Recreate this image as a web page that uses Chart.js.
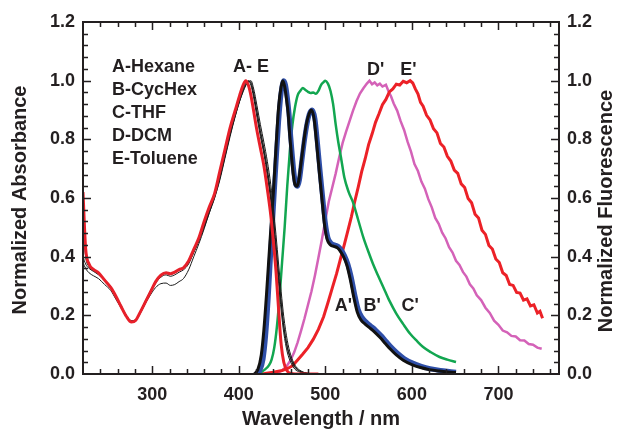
<!DOCTYPE html>
<html>
<head>
<meta charset="utf-8">
<title>Absorbance and fluorescence spectra</title>
<script src="https://cdn.jsdelivr.net/npm/chart.js@4.4.1/dist/chart.umd.min.js"></script>
<style>
  html, body { margin: 0; padding: 0; background: #fff; }
  canvas { display: block; }
</style>
</head>
<body>
<canvas id="spectra" width="622" height="430"></canvas>
<script>
// absorbance spectra, shared wavelength grid (nm)
const absWl = [220, 223, 227, 232, 238, 245, 252, 258, 264, 270, 276, 281, 286, 292, 298, 304, 310, 316, 321, 326,
  331, 336, 342, 348, 354, 360, 366, 372, 378, 384, 390, 396, 401, 405, 408, 411, 414, 417, 421, 425,
  429, 433, 437, 440, 443, 446, 449, 452, 456, 460, 465, 470, 476, 484, 492];
const absHexane = [0.38, 0.36, 0.345, 0.335, 0.325, 0.305, 0.285, 0.255, 0.225, 0.195, 0.178, 0.182, 0.205, 0.24, 0.27, 0.295, 0.308, 0.31, 0.302, 0.305,
  0.315, 0.325, 0.355, 0.40, 0.445, 0.495, 0.55, 0.60, 0.66, 0.735, 0.81, 0.88, 0.93, 0.965, 0.985, 1.0, 0.99, 0.955, 0.89, 0.82,
  0.76, 0.69, 0.60, 0.52, 0.43, 0.33, 0.24, 0.16, 0.09, 0.05, 0.022, 0.01, 0.004, 0.001, 0];
const absCycHex = [0.40, 0.375, 0.36, 0.35, 0.338, 0.318, 0.293, 0.263, 0.23, 0.198, 0.18, 0.185, 0.21, 0.245, 0.28, 0.31, 0.33, 0.338, 0.333, 0.338,
  0.347, 0.355, 0.375, 0.415, 0.455, 0.505, 0.555, 0.605, 0.67, 0.745, 0.82, 0.885, 0.935, 0.97, 0.99, 0.998, 0.995, 0.96, 0.895, 0.83,
  0.77, 0.70, 0.615, 0.535, 0.44, 0.34, 0.245, 0.165, 0.095, 0.055, 0.025, 0.011, 0.004, 0.001, 0];
const absTHF = [0.56, 0.42, 0.372, 0.355, 0.343, 0.322, 0.297, 0.268, 0.233, 0.20, 0.182, 0.186, 0.212, 0.247, 0.282, 0.315, 0.336, 0.343, 0.339, 0.345,
  0.354, 0.36, 0.38, 0.418, 0.458, 0.51, 0.56, 0.608, 0.675, 0.75, 0.825, 0.89, 0.94, 0.975, 0.995, 0.998, 0.985, 0.945, 0.875, 0.81,
  0.75, 0.675, 0.59, 0.505, 0.41, 0.31, 0.215, 0.14, 0.075, 0.04, 0.016, 0.007, 0.002, 0, 0];
const absDCM = [0.50, 0.40, 0.365, 0.352, 0.342, 0.322, 0.298, 0.268, 0.234, 0.20, 0.18, 0.186, 0.213, 0.25, 0.285, 0.318, 0.338, 0.345, 0.342, 0.348,
  0.357, 0.364, 0.38, 0.415, 0.455, 0.50, 0.55, 0.60, 0.665, 0.74, 0.815, 0.88, 0.93, 0.962, 0.983, 0.995, 1.0, 0.975, 0.915, 0.85,
  0.79, 0.725, 0.645, 0.565, 0.475, 0.375, 0.28, 0.195, 0.115, 0.065, 0.03, 0.014, 0.005, 0.001, 0];
const absToluene = [0.62, 0.43, 0.375, 0.357, 0.345, 0.32, 0.295, 0.265, 0.23, 0.197, 0.177, 0.183, 0.21, 0.245, 0.28, 0.315, 0.337, 0.345, 0.342, 0.347,
  0.356, 0.362, 0.385, 0.425, 0.465, 0.52, 0.57, 0.615, 0.69, 0.765, 0.84, 0.90, 0.95, 0.985, 1.0, 0.985, 0.95, 0.90, 0.83, 0.77,
  0.71, 0.63, 0.54, 0.45, 0.35, 0.22, 0.10, 0.04, 0.01, 0.002, 0, 0, 0, 0, 0];

// fluorescence spectra
const wlFluoA = [418, 422, 426, 429, 432, 436, 440, 443, 446, 449, 451, 453, 455, 457, 459, 461, 463, 465, 467, 469,
  472, 475, 478, 481, 484, 487, 490, 493, 496, 499, 502, 506, 510, 514, 517, 521, 525, 529, 533, 537,
  541, 546, 551, 557, 563, 569, 575, 582, 590, 600, 610, 620, 632, 645, 651];
const fluoHexane = [0, 0.015, 0.065, 0.15, 0.27, 0.45, 0.62, 0.77, 0.91, 0.98, 1.0, 0.98, 0.94, 0.89, 0.81, 0.74, 0.68, 0.645, 0.64, 0.655,
  0.72, 0.79, 0.85, 0.885, 0.90, 0.87, 0.785, 0.69, 0.60, 0.51, 0.46, 0.44, 0.435, 0.43, 0.42, 0.40, 0.37, 0.32, 0.26, 0.21,
  0.185, 0.17, 0.158, 0.143, 0.125, 0.105, 0.085, 0.065, 0.047, 0.032, 0.022, 0.015, 0.01, 0.006, 0.005];
const wlFluoB = [420, 424, 428, 431, 434, 437, 440, 443, 446, 449, 452, 454, 456, 458, 460, 462, 464, 466, 468, 470,
  473, 476, 479, 482, 485, 488, 491, 494, 497, 500, 503, 507, 511, 515, 518, 522, 526, 530, 534, 538,
  542, 547, 552, 558, 564, 570, 576, 583, 591, 601, 611, 621, 633, 645, 651];
const fluoCycHex = [0, 0.01, 0.05, 0.13, 0.26, 0.42, 0.57, 0.72, 0.86, 0.96, 1.0, 0.985, 0.945, 0.89, 0.81, 0.74, 0.68, 0.645, 0.64, 0.66,
  0.73, 0.80, 0.855, 0.89, 0.90, 0.87, 0.785, 0.69, 0.60, 0.515, 0.465, 0.445, 0.44, 0.435, 0.425, 0.405, 0.375, 0.33, 0.27, 0.22,
  0.195, 0.178, 0.165, 0.15, 0.132, 0.112, 0.092, 0.072, 0.053, 0.037, 0.026, 0.018, 0.012, 0.008, 0.006];
const wlFluoC = [419, 425, 430, 435, 438, 441, 444, 447, 450, 453, 456, 459, 462, 465, 468, 471, 474, 477, 480, 483,
  486, 489, 492, 495, 498, 500, 503, 506, 509, 512, 515, 518, 522, 527, 532, 538, 544, 550, 555, 561,
  567, 574, 582, 590, 598, 606, 613, 622, 632, 641, 651];
const fluoTHF = [0, 0.005, 0.015, 0.03, 0.05, 0.09, 0.16, 0.26, 0.38, 0.50, 0.64, 0.76, 0.85, 0.91, 0.95, 0.965, 0.975, 0.968, 0.962, 0.958,
  0.96, 0.955, 0.965, 0.985, 0.995, 1.0, 0.99, 0.965, 0.92, 0.85, 0.79, 0.74, 0.67, 0.62, 0.585, 0.525, 0.465, 0.415, 0.376, 0.335,
  0.296, 0.25, 0.206, 0.17, 0.137, 0.112, 0.092, 0.074, 0.058, 0.049, 0.041];
const wlFluoD = [440, 445, 450, 455, 460, 464, 468, 472, 476, 480, 484, 488, 492, 496, 500, 504, 508, 512, 516, 520,
  524, 528, 532, 536, 540, 544, 548, 551, 554, 557, 560, 563, 566, 570, 573, 576, 579, 583, 587, 591,
  595, 599, 603, 607, 611, 615, 619, 623, 627, 631, 635, 639, 643, 647, 651, 655, 659, 663, 667, 671,
  675, 680, 685, 690, 695, 700, 705, 710, 715, 720, 725, 730, 735, 740, 745, 750];
const fluoDCM = [0, 0.004, 0.012, 0.025, 0.048, 0.074, 0.108, 0.148, 0.19, 0.236, 0.282, 0.336, 0.396, 0.458, 0.524, 0.588, 0.636, 0.684, 0.738, 0.788,
  0.826, 0.862, 0.898, 0.93, 0.956, 0.974, 0.99, 1.0, 0.988, 0.994, 0.984, 0.99, 0.98, 0.986, 0.964, 0.946, 0.922, 0.898, 0.862, 0.832,
  0.792, 0.758, 0.716, 0.692, 0.656, 0.632, 0.596, 0.568, 0.532, 0.512, 0.482, 0.462, 0.432, 0.414, 0.386, 0.372, 0.348, 0.332, 0.306, 0.292,
  0.268, 0.252, 0.226, 0.208, 0.182, 0.168, 0.148, 0.142, 0.13, 0.128, 0.115, 0.114, 0.102, 0.10, 0.09, 0.086];
const wlFluoE = [420, 430, 440, 450, 456, 462, 468, 474, 480, 486, 492, 498, 503, 508, 513, 518, 522, 526, 530, 534,
  538, 542, 546, 550, 554, 558, 562, 566, 570, 574, 578, 582, 586, 590, 594, 598, 601, 604, 607, 610,
  613, 617, 621, 625, 629, 633, 637, 641, 645, 649, 653, 657, 661, 665, 669, 673, 677, 681, 685, 689,
  693, 697, 701, 705, 709, 713, 717, 721, 725, 729, 733, 737, 741, 745, 748, 751];
const fluoToluene = [0, 0.002, 0.006, 0.012, 0.018, 0.028, 0.048, 0.068, 0.09, 0.118, 0.152, 0.195, 0.243, 0.293, 0.342, 0.398, 0.442, 0.488, 0.535, 0.588,
  0.637, 0.69, 0.733, 0.782, 0.818, 0.858, 0.887, 0.918, 0.936, 0.962, 0.972, 0.988, 0.985, 0.998, 0.993, 1.0, 0.992, 0.972, 0.955, 0.926,
  0.913, 0.882, 0.866, 0.836, 0.822, 0.786, 0.774, 0.742, 0.726, 0.695, 0.684, 0.648, 0.636, 0.598, 0.584, 0.545, 0.532, 0.49, 0.476, 0.438,
  0.426, 0.392, 0.38, 0.345, 0.336, 0.305, 0.302, 0.278, 0.276, 0.252, 0.256, 0.232, 0.236, 0.208, 0.214, 0.19];

const solventNames = ['A-Hexane', 'B-CycHex', 'C-THF', 'D-DCM', 'E-Toluene'];
// in-plot labels: [text, wavelength, value]
const curveLabels = [['A- E', 414, 1.046], ["D'", 558, 1.035], ["E'", 596, 1.035],
  ["A'", 521, 0.231], ["B'", 554, 0.231], ["C'", 598, 0.231]];

const INK = '#231f20';
const BOLD = '"Liberation Sans", Arial, sans-serif';

const pts = (xs, ys) => xs.map((x, i) => ({ x: x, y: ys[i] }));

function line(data, color, width, order, extra) {
    return Object.assign({
        data: data,
        borderColor: color,
        borderWidth: width,
        pointRadius: 0,
        fill: false,
        tension: 0,
        order: order
    }, extra || {});
}

const smooth = { cubicInterpolationMode: 'monotone' };

// inward ticks on all four sides, frame, legend text and axis titles
const frameAndText = {
    id: 'frameAndText',
    afterDraw(chart) {
        const { ctx, chartArea: a, scales } = chart;
        const xs = scales.x, ys = scales.y;
        ctx.save();
        ctx.strokeStyle = INK;
        ctx.lineWidth = 1.5;
        ctx.beginPath();
        for (let w = 240; w < 770; w += 20) {
            const px = Math.round(xs.getPixelForValue(w)) + 0.5;
            const len = w % 100 === 0 ? 8 : 5;
            ctx.moveTo(px, a.bottom); ctx.lineTo(px, a.bottom - len);
            ctx.moveTo(px, a.top); ctx.lineTo(px, a.top + len);
        }
        for (let i = 1; i < 30; i++) {
            const py = Math.round(ys.getPixelForValue(i * 0.04)) + 0.5;
            const len = i % 5 === 0 ? 8 : 5;
            ctx.moveTo(a.left, py); ctx.lineTo(a.left + len, py);
            ctx.moveTo(a.right, py); ctx.lineTo(a.right - len, py);
        }
        ctx.stroke();
        ctx.lineWidth = 2;
        ctx.strokeRect(a.left, a.top, a.right - a.left, a.bottom - a.top);

        ctx.fillStyle = INK;
        ctx.textBaseline = 'middle';
        ctx.font = 'bold 18px ' + BOLD;
        ctx.textAlign = 'left';
        solventNames.forEach((name, i) => ctx.fillText(name, 112, 67 + i * 23));
        ctx.textAlign = 'center';
        curveLabels.forEach(([t, w, v]) => ctx.fillText(t, xs.getPixelForValue(w), ys.getPixelForValue(v)));

        ctx.font = 'bold 20px ' + BOLD;
        ctx.fillText('Wavelength / nm', (a.left + a.right) / 2, 419);
        ctx.save();
        ctx.translate(20, 200);
        ctx.rotate(-Math.PI / 2);
        ctx.fillText('Normalized Absorbance', 0, 0);
        ctx.restore();
        ctx.save();
        ctx.translate(606, 211);
        ctx.rotate(-Math.PI / 2);
        ctx.fillText('Normalized Fluorescence', 0, 0);
        ctx.restore();
        ctx.restore();
    }
};

const tickFont = { family: BOLD, size: 18, weight: 'bold' };
const valueAxis = (position, width) => ({
    type: 'linear',
    position: position,
    min: 0,
    max: 1.2,
    grid: { display: false, drawTicks: false },
    border: { display: false },
    ticks: { stepSize: 0.2, padding: 8, color: INK, font: tickFont, callback: v => v.toFixed(1) },
    afterFit: s => { s.width = width; }
});

new Chart(document.getElementById('spectra'), {
    type: 'line',
    data: {
        datasets: [
            line(pts(absWl, absToluene), '#e8202a', 3, 0, smooth),
            line(pts(absWl, absHexane), '#1a1a1a', 1, 1, smooth),
            line(pts(absWl, absCycHex), '#1a1a1a', 1, 1, smooth),
            line(pts(absWl, absTHF), '#1a1a1a', 1, 1, smooth),
            line(pts(absWl, absDCM), '#1a1a1a', 1, 1, smooth),
            line(pts(wlFluoA, fluoHexane), '#111111', 3, 2, Object.assign({ yAxisID: 'y2' }, smooth)),
            line(pts(wlFluoB, fluoCycHex), '#2f4fa8', 5, 3, Object.assign({ yAxisID: 'y2' }, smooth)),
            line(pts(wlFluoC, fluoTHF), '#12a650', 2.5, 4, Object.assign({ yAxisID: 'y2' }, smooth)),
            line(pts(wlFluoE, fluoToluene), '#ec2127', 3, 5, { yAxisID: 'y2' }),
            line(pts(wlFluoD, fluoDCM), '#d462b8', 2.5, 6, { yAxisID: 'y2' })
        ]
    },
    options: {
        responsive: false,
        animation: false,
        devicePixelRatio: 1,
        layout: { padding: { top: 22, left: 0, right: 0, bottom: 0 } },
        plugins: { legend: { display: false }, tooltip: { enabled: false } },
        scales: {
            x: {
                type: 'linear',
                min: 220,
                max: 770,
                grid: { display: false, drawTicks: false },
                border: { display: false },
                ticks: { stepSize: 100, padding: 10, maxRotation: 0, color: INK, font: tickFont },
                afterBuildTicks: s => { s.ticks = s.ticks.filter(t => t.value % 100 === 0); },
                afterFit: s => { s.height = 56; }
            },
            y: valueAxis('left', 83),
            y2: valueAxis('right', 63)
        }
    },
    plugins: [frameAndText]
});
</script>
</body>
</html>
